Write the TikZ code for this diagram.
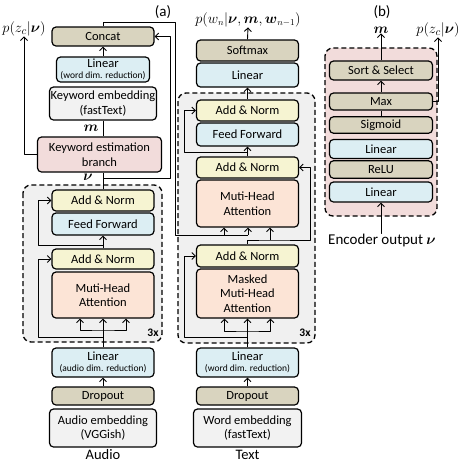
\documentclass[tikz,border=0pt]{standalone}
\usepackage{amsmath}
\usepackage{fontspec}
\setmainfont{Carlito}
\usetikzlibrary{arrows.meta}
\definecolor{tanbox}{HTML}{D9D4BF}
\definecolor{bluebox}{HTML}{DCEEF3}
\definecolor{graybox}{HTML}{F2F2F2}
\definecolor{pinkbox}{HTML}{F2DCDB}
\definecolor{yellowbox}{HTML}{F6F4D2}
\definecolor{peachbox}{HTML}{FCE4D6}
\definecolor{blockgray}{HTML}{F0F0F0}
\tikzset{
 box/.style={draw,line width=1.2pt,rounded corners=4pt,minimum width=102pt,inner sep=0pt,align=center,font=\fontsize{12.5}{14.5}\selectfont},
 lbl/.style={inner sep=0pt,font=\fontsize{15}{16}\selectfont},
 rep/.style={inner sep=0pt,font=\fontsize{11.5}{12}\selectfont\bfseries},
 block/.style={dashed,line width=1.3pt,dash pattern=on 5pt off 3pt,rounded corners=8pt},
 conn/.style={line width=0.9pt}
}
\begin{document}
\begin{tikzpicture}[x=1pt,y=-1pt,>={Straight Barb[length=3.5pt,width=7pt]},line join=round]
 \useasboundingbox (0,0) rectangle (463,464);
 % blocks
 \draw[block,fill=blockgray] (23,185) rectangle (162,342);
 \draw[block,fill=blockgray] (178,93) rectangle (315,343);
 \draw[block,fill=pinkbox] (325,48) rectangle (437,216);
 % (a) left column
 \node[box,fill=tanbox,minimum height=19pt] (concat) at (103,36.5) {Concat};
 \node[box,fill=bluebox,minimum width=93pt,minimum height=25pt] (kwlin) at (103,69.5) {Linear\\[-3.5pt]{\fontsize{9.5}{10}\selectfont(word dim. reduction)}};
 \node[box,fill=graybox,minimum width=107pt,minimum height=33pt] (kwemb) at (103,103.5) {Keyword embedding\\(fastText)};
 \node[box,fill=pinkbox,minimum width=124pt,minimum height=35pt] (kwest) at (99.5,154.5) {Keyword estimation\\branch};
 \node[box,fill=yellowbox,minimum height=21pt] (encAN2) at (103,200.5) {Add \& Norm};
 \node[box,fill=bluebox,minimum height=22pt] (encFF) at (103,224) {Feed Forward};
 \node[box,fill=yellowbox,minimum height=20pt] (encAN1) at (103,259) {Add \& Norm};
 \node[box,fill=peachbox,minimum height=46pt] (encMHA) at (103,295) {Muti-Head\\Attention};
 \node[box,fill=bluebox,minimum height=29pt] (audLin) at (103,362.5) {Linear\\[-3.5pt]{\fontsize{9.5}{10}\selectfont(audio dim. reduction)}};
 \node[box,fill=tanbox,minimum height=18pt] (audDrop) at (103,396) {Dropout};
 \node[box,fill=graybox,minimum width=107pt,minimum height=38pt] (audEmb) at (103,428) {Audio embedding\\(VGGish)};
 \node[lbl,font=\fontsize{14.5}{15}\selectfont] (audio) at (103,455) {Audio};
 % decoder
 \node[box,fill=tanbox,minimum height=21pt] (softmax) at (247.5,50.5) {Softmax};
 \node[box,fill=bluebox,minimum height=24pt] (decLin) at (247.5,75) {Linear};
 \node[box,fill=yellowbox,minimum height=21pt] (decAN3) at (247.5,110.5) {Add \& Norm};
 \node[box,fill=bluebox,minimum height=23pt] (decFF) at (247.5,134.5) {Feed Forward};
 \node[box,fill=yellowbox,minimum height=21pt] (decAN2) at (247.5,167.5) {Add \& Norm};
 \node[box,fill=peachbox,minimum height=47pt] (decMHA) at (247.5,203.5) {Muti-Head\\Attention};
 \node[box,fill=yellowbox,minimum height=22pt] (decAN1) at (247.5,256) {Add \& Norm};
 \node[box,fill=peachbox,minimum height=49pt] (decMMHA) at (247.5,293.5) {Masked\\Muti-Head\\Attention};
 \node[box,fill=bluebox,minimum height=29pt] (wordLin) at (247.5,362.5) {Linear\\[-3.5pt]{\fontsize{9.5}{10}\selectfont(word dim. reduction)}};
 \node[box,fill=tanbox,minimum height=18pt] (wordDrop) at (247.5,396) {Dropout};
 \node[box,fill=graybox,minimum width=108pt,minimum height=38pt] (wordEmb) at (247.5,428) {Word embedding\\(fastText)};
 \node[lbl,font=\fontsize{14.5}{15}\selectfont] (text) at (247.5,455) {Text};
 % (b) keyword branch
 \node[box,fill=tanbox,minimum width=103pt,minimum height=19pt] (sortSel) at (381,70.5) {Sort \& Select};
 \node[box,fill=tanbox,minimum width=103pt,minimum height=17pt] (maxB) at (381,101.5) {Max};
 \node[box,fill=tanbox,minimum width=103pt,minimum height=16.5pt] (sigm) at (381,125) {Sigmoid};
 \node[box,fill=bluebox,minimum width=103pt,minimum height=19pt] (linB2) at (381,149) {Linear};
 \node[box,fill=tanbox,minimum width=103pt,minimum height=17.5pt] (relu) at (381,169.5) {ReLU};
 \node[box,fill=bluebox,minimum width=103pt,minimum height=20pt] (linB1) at (381,192) {Linear};
 \node[lbl] (encOut) at (382,240) {Encoder output $\boldsymbol{\nu}$};
 % labels
 \node[lbl] at (163,12) {(a)};
 \node[lbl] at (382,12) {(b)};
 \node[lbl] (pz) at (24,29) {$p(z_c|\boldsymbol{\nu})$};
 \node[lbl,font=\fontsize{13.5}{14}\selectfont] (pw) at (248,20) {$p(w_n|\boldsymbol{\nu},\boldsymbol{m},\boldsymbol{w}_{n-1})$};
 \node[lbl] (mB) at (381,30) {$\boldsymbol{m}$};
 \node[lbl] (pzB) at (438,30) {$p(z_c|\boldsymbol{\nu})$};
 \node[lbl] at (91,128) {$\boldsymbol{m}$};
 \node[lbl] at (88,177) {$\boldsymbol{\nu}$};
 \node[rep] at (153,333) {3x};
 \node[rep] at (305,333) {3x};
 % junctions
 \coordinate (nu) at (103,178);
 \coordinate (memTop) at (175,22);
 \coordinate (memEnd) at (248,235);
 \coordinate (memA) at (224,235);
 \coordinate (qA) at (270,240);
 \coordinate (encIn) at (103,330);
 \coordinate (encRes) at (103,337);
 \coordinate (encRes2) at (103,245);
 \coordinate (decIn) at (247.5,331);
 \coordinate (decRes) at (247.5,337);
 \coordinate (decRes2) at (247.5,152);
 % (a) connectors
 \draw[conn] (encAN2.north) -- (encAN2.north |- kwest.south);
 \draw[conn] (kwemb.south) -- (kwemb.south |- kwest.north);
 \draw[conn,->] (kwlin.north) -- (concat.south);
 \draw[conn,->] (kwest.west) -| (pz.south);
 \draw[conn,->] (nu) -| ([xshift=16pt]concat.east) -- (concat.east);
 \draw[conn] (concat.north) |- (memTop) |- (memEnd);
 \draw[conn,->] (memEnd) -- (memEnd |- decMHA.south);
 \draw[conn,->] (memA) -- (memA |- decMHA.south);
 % encoder
 \draw[conn,->] (audDrop.north) -- (audLin.south);
 \draw[conn,->] (audLin.north) -- (encMHA.south);
 \draw[conn,<->] ([xshift=-23pt]encMHA.south) |- (encIn) -| ([xshift=23pt]encMHA.south);
 \draw[conn,->] (encRes) -| ([xshift=-13pt]encAN1.west) -- (encAN1.west);
 \draw[conn,->] (encAN1.north) -- (encFF.south);
 \draw[conn,->] (encRes2) -| ([xshift=-13pt]encAN2.west) -- (encAN2.west);
 % decoder
 \draw[conn,->] (wordDrop.north) -- (wordLin.south);
 \draw[conn,->] (wordLin.north) -- (decMMHA.south);
 \draw[conn,<->] ([xshift=-23pt]decMMHA.south) |- (decIn) -| ([xshift=23pt]decMMHA.south);
 \draw[conn,->] (decRes) -| ([xshift=-11pt]decAN1.west) -- (decAN1.west);
 \draw[conn,->] (decAN1.north) |- (qA) -| ([xshift=11pt]decAN2.east) -- (decAN2.east);
 \draw[conn,->] (qA) -- (qA |- decMHA.south);
 \draw[conn,->] (decAN2.north) -- (decFF.south);
 \draw[conn,->] (decRes2) -| ([xshift=-11pt]decAN3.west) -- (decAN3.west);
 \draw[conn,->] (decAN3.north) -- (decLin.south);
 \draw[conn,->] (softmax.north) -- (pw.south);
 % (b) connectors
 \draw[conn,->] (encOut.north) -- (encOut.north -| linB1.south) -- (linB1.south);
 \draw[conn] (sigm.north) -- (maxB.south);
 \draw[conn,->] (maxB.north) -- (sortSel.south);
 \draw[conn,->] (sortSel.north) -- (mB.south);
 \draw[conn,->] (maxB.east) -| (pzB.south);
\end{tikzpicture}
\end{document}
